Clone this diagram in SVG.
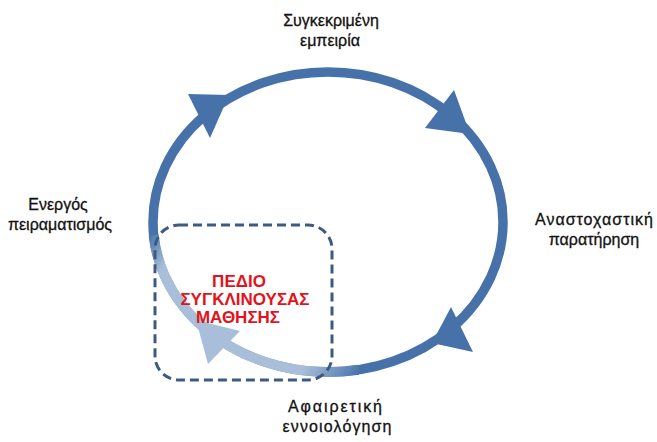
<svg xmlns="http://www.w3.org/2000/svg" width="657" height="442" viewBox="0 0 657 442">
<defs>
<style>
.lbl{font-family:"Liberation Sans","DejaVu Sans",sans-serif;font-size:16px;fill:#111;stroke:#111;stroke-width:0.3;text-anchor:middle}
.red{font-family:"Liberation Sans","DejaVu Sans",sans-serif;font-size:17px;font-weight:bold;fill:#E3131B;text-anchor:middle}
.ring{fill:none;stroke:#4672A9;stroke-width:9.5}
.head{fill:#4672A9}
</style>
<linearGradient id="fade" gradientUnits="userSpaceOnUse" x1="362" y1="371" x2="150" y2="232">
<stop offset="0" stop-color="#4672A9"/>
<stop offset="0.2" stop-color="#A9BFD9"/>
<stop offset="0.88" stop-color="#A9BFD9"/>
<stop offset="1" stop-color="#4672A9"/>
</linearGradient>
</defs>
<rect width="657" height="442" fill="#fff"/>
<g id="connectors">
<ellipse class="ring" cx="328" cy="222" rx="175" ry="150"/>
<path d="M 358.4 369.7 A 175 150 0 0 1 153.7 235" fill="none" stroke="url(#fade)" stroke-width="10"/>
<polygon class="head" points="188,94 229,95 210,138"/>
<polygon class="head" points="454,90 470,134 425,128"/>
<polygon class="head" points="451,307 473,352 432,343"/>
<polygon points="196,320 240,331 208,364" fill="#A9BFD9"/>
</g>
<g id="field">
<rect x="155" y="225" width="177" height="155" rx="24" ry="24" fill="none" stroke="#3D5A80" stroke-width="3" stroke-dasharray="9 5"/>
<text class="red" x="239" y="287">ΠΕΔΙΟ</text>
<text class="red" x="245" y="305">ΣΥΓΚΛΙΝΟΥΣΑΣ</text>
<text class="red" x="238" y="323">ΜΑΘΗΣΗΣ</text>
</g>
<g id="concrete">
<text class="lbl" x="331" y="26">Συγκεκριμένη</text>
<text class="lbl" x="330" y="46">εμπειρία</text>
</g>
<g id="reflective">
<text class="lbl" x="594" y="225" textLength="118" lengthAdjust="spacing">Αναστοχαστική</text>
<text class="lbl" x="594" y="245">παρατήρηση</text>
</g>
<g id="abstract">
<text class="lbl" x="335" y="412" textLength="94" lengthAdjust="spacing">Αφαιρετική</text>
<text class="lbl" x="337" y="432" textLength="109" lengthAdjust="spacing">εννοιολόγηση</text>
</g>
<g id="active">
<text class="lbl" x="58" y="210">Ενεργός</text>
<text class="lbl" x="60" y="230">πειραματισμός</text>
</g>
</svg>
